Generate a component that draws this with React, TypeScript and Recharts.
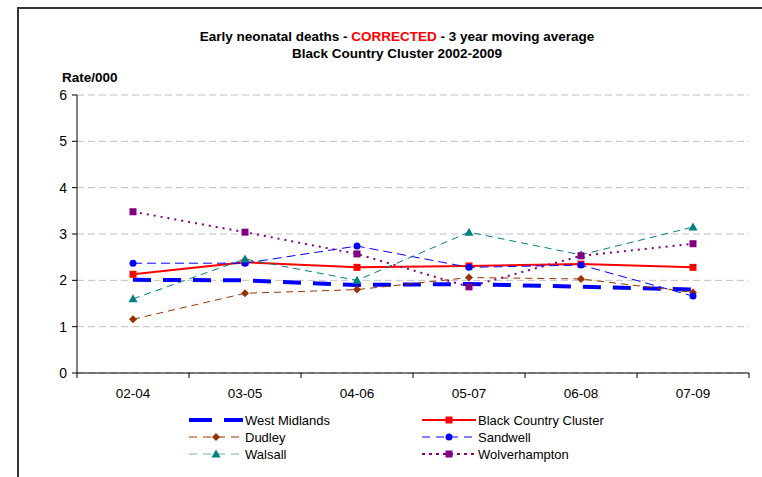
import React from 'react';
import { LineChart, Line, XAxis, YAxis, CartesianGrid, Legend } from 'recharts';

const categories = ['02-04', '03-05', '04-06', '05-07', '06-08', '07-09'];
const westMidlands = [2.01, 2.0, 1.9, 1.92, 1.86, 1.8];
const blackCountry = [2.13, 2.39, 2.28, 2.31, 2.35, 2.28];
const dudley = [1.16, 1.72, 1.8, 2.06, 2.03, 1.74];
const sandwell = [2.37, 2.37, 2.74, 2.28, 2.33, 1.66];
const walsall = [1.6, 2.46, 2.0, 3.04, 2.55, 3.15];
const wolverhampton = [3.48, 3.04, 2.57, 1.86, 2.53, 2.79];
const yTicks = [0, 1, 2, 3, 4, 5, 6];

const W = 762;
const H = 477;
const MARGIN = { top: 95, right: 13, bottom: 74, left: 47 };
const Y_AXIS_W = 30;
const X_AXIS_H = 30;
const PLOT_W = W - MARGIN.left - Y_AXIS_W - MARGIN.right;
const HALF_BAND = PLOT_W / categories.length / 2;
const FONT = '"Liberation Sans", Arial, sans-serif';

const data = categories.map((c, i) => ({
  cat: c,
  wm: westMidlands[i],
  bcc: blackCountry[i],
  dud: dudley[i],
  san: sandwell[i],
  wal: walsall[i],
  wol: wolverhampton[i],
}));

type Shape = 'none' | 'square' | 'diamond' | 'circle' | 'triangle';

const series: {
  key: string;
  name: string;
  color: string;
  width: number;
  dash?: string;
  shape: Shape;
}[] = [
  { key: 'wm', name: 'West Midlands', color: '#0000FF', width: 4, dash: '18 12', shape: 'none' },
  { key: 'bcc', name: 'Black Country Cluster', color: '#FF0000', width: 2, shape: 'square' },
  { key: 'dud', name: 'Dudley', color: '#993300', width: 1, dash: '7 5', shape: 'diamond' },
  { key: 'san', name: 'Sandwell', color: '#0000FF', width: 1, dash: '9 5', shape: 'circle' },
  { key: 'wal', name: 'Walsall', color: '#008080', width: 1, dash: '7 5', shape: 'triangle' },
  { key: 'wol', name: 'Wolverhampton', color: '#800080', width: 2, dash: '2 5', shape: 'square' },
];

function marker(shape: Shape, cx: number, cy: number, color: string, key?: string) {
  switch (shape) {
    case 'square':
      return <rect key={key} x={cx - 3.5} y={cy - 3.5} width={7} height={7} fill={color} />;
    case 'diamond':
      return (
        <polygon
          key={key}
          points={`${cx},${cy - 4} ${cx + 4},${cy} ${cx},${cy + 4} ${cx - 4},${cy}`}
          fill={color}
        />
      );
    case 'circle':
      return <circle key={key} cx={cx} cy={cy} r={3.5} fill={color} />;
    case 'triangle':
      return (
        <polygon
          key={key}
          points={`${cx},${cy - 4.5} ${cx + 4.5},${cy + 3.5} ${cx - 4.5},${cy + 3.5}`}
          fill={color}
        />
      );
    default:
      return <g key={key} />;
  }
}

const makeDot = (shape: Shape, color: string) => (props: any) => {
  const { cx, cy, index } = props;
  if (cx == null || cy == null) return <g key={`d-${index}`} />;
  return marker(shape, cx, cy, color, `d-${index}`);
};

const CatTick = (props: any) => {
  const { x, y, payload, index } = props;
  const last = index === categories.length - 1;
  return (
    <g>
      <line x1={x - HALF_BAND} x2={x - HALF_BAND} y1={y} y2={y + 5} stroke="#000" />
      {last && <line x1={x + HALF_BAND} x2={x + HALF_BAND} y1={y} y2={y + 5} stroke="#000" />}
      <text x={x} y={y + 25} textAnchor="middle" fontSize={13.5} fontFamily={FONT} fill="#000">
        {payload.value}
      </text>
    </g>
  );
};

const LegendIcon = ({ s }: { s: (typeof series)[number] }) => {
  if (s.shape === 'none') {
    return (
      <svg width={54} height={12}>
        <line x1={0} x2={23} y1={6} y2={6} stroke={s.color} strokeWidth={4} />
        <line x1={35} x2={54} y1={6} y2={6} stroke={s.color} strokeWidth={4} />
      </svg>
    );
  }
  const dash = s.shape === 'square' && s.dash ? '3 4' : s.dash ? '8 6' : undefined;
  return (
    <svg width={54} height={12}>
      <line
        x1={0}
        x2={54}
        y1={6}
        y2={6}
        stroke={s.color}
        strokeWidth={s.width}
        strokeDasharray={dash}
        opacity={s.key === 'wal' ? 0.6 : 1}
      />
      {marker(s.shape, 27, 6, s.color)}
    </svg>
  );
};

const LegendContent = () => {
  const cols = [189, 422];
  const rows = [0, 17, 34];
  return (
    <div style={{ position: 'relative', width: W, height: 60 }}>
      {series.map((s, i) => (
        <div
          key={s.key}
          style={{
            position: 'absolute',
            left: cols[i % 2],
            top: rows[Math.floor(i / 2)],
            display: 'flex',
            alignItems: 'center',
            height: 16,
            fontFamily: FONT,
            fontSize: 13,
            color: '#000',
            whiteSpace: 'nowrap',
          }}
        >
          <LegendIcon s={s} />
          <span style={{ marginLeft: 2 }}>{s.name}</span>
        </div>
      ))}
    </div>
  );
};

export default function App() {
  return (
    <div style={{ position: 'absolute', left: 0, top: 0, width: W, height: H, background: '#fff', overflow: 'hidden' }}>
      <div
        style={{
          position: 'absolute',
          left: 17,
          top: 7,
          width: W - 17,
          height: H - 7,
          borderTop: '2px solid #333',
          borderLeft: '2px solid #333',
        }}
      />
      <div
        style={{
          position: 'absolute',
          left: 0,
          width: 794,
          top: 28,
          textAlign: 'center',
          fontFamily: FONT,
          fontWeight: 'bold',
          fontSize: 13.5,
          lineHeight: '17px',
          color: '#000',
        }}
      >
        <div>
          Early neonatal deaths - <span style={{ color: '#FF0000' }}>CORRECTED</span> - 3 year moving average
        </div>
        <div>Black Country Cluster 2002-2009</div>
      </div>
      <div
        style={{
          position: 'absolute',
          left: 62,
          top: 70,
          fontFamily: FONT,
          fontWeight: 'bold',
          fontSize: 13.5,
          color: '#000',
        }}
      >
        Rate/000
      </div>
      <div style={{ position: 'absolute', left: 0, top: 0 }}>
        <LineChart width={W} height={H} data={data} margin={MARGIN}>
          <CartesianGrid vertical={false} stroke="#c0c0c0" strokeDasharray="7 4" />
          <XAxis
            dataKey="cat"
            height={X_AXIS_H}
            stroke="#000"
            tickLine={false}
            tickSize={0}
            tickMargin={0}
            tick={<CatTick />}
            interval={0}
            padding={{ left: HALF_BAND, right: HALF_BAND }}
          />
          <YAxis
            width={Y_AXIS_W}
            domain={[0, 6]}
            ticks={yTicks}
            stroke="#000"
            tickSize={5}
            tickMargin={5}
            tick={{ fontSize: 14, fontFamily: FONT, fill: '#000' }}
            interval={0}
          />
          <Legend
            layout="horizontal"
            verticalAlign="middle"
            align="center"
            wrapperStyle={{ position: 'absolute', left: 0, top: 412, width: W }}
            content={<LegendContent />}
          />
          {series.map((s) => (
            <Line
              key={s.key}
              type="linear"
              dataKey={s.key}
              name={s.name}
              stroke={s.color}
              strokeWidth={s.width}
              strokeDasharray={s.dash}
              dot={s.shape === 'none' ? false : makeDot(s.shape, s.color)}
              activeDot={false}
              isAnimationActive={false}
            />
          ))}
        </LineChart>
      </div>
    </div>
  );
}
